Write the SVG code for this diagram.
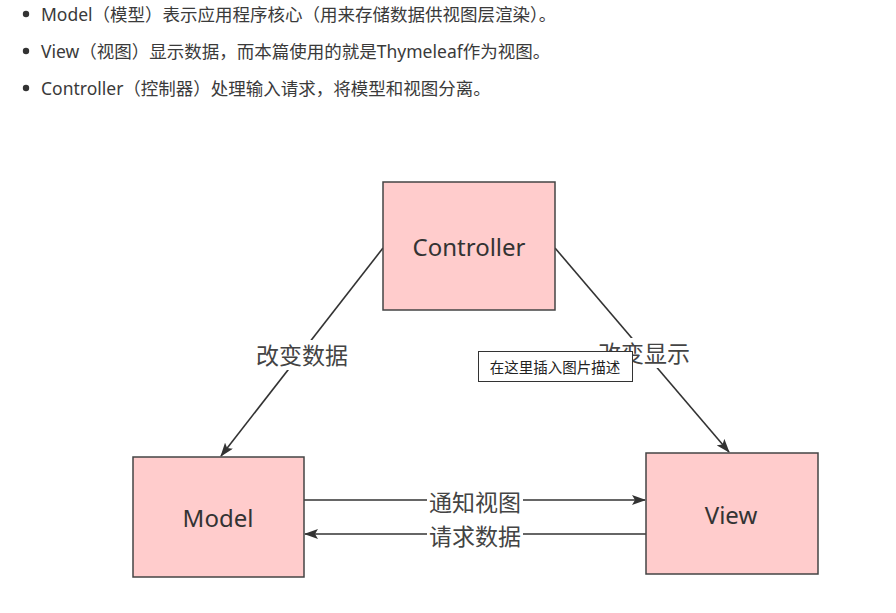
<svg xmlns="http://www.w3.org/2000/svg" width="896" height="613" viewBox="0 0 896 613">
<style>
.bt{font-family:"Noto Sans","Noto Sans CJK SC",sans-serif;font-size:17.5px;fill:#3a3a3a}
.box{fill:#ffcccc;stroke:#444;stroke-width:1.5}
.nt{font-family:"Noto Sans","Noto Sans CJK SC",sans-serif;font-size:24px;fill:#333;text-anchor:middle;dominant-baseline:central}
.lb{font-family:"Noto Sans CJK SC",sans-serif;font-size:23px;fill:#444;text-anchor:middle;dominant-baseline:central}
.ln{stroke:#333;stroke-width:1.6;fill:none;marker-end:url(#ah)}
.bg{fill:#fff}
</style>
<defs>
<marker id="ah" viewBox="0 0 14 10" refX="13" refY="5" markerWidth="14" markerHeight="10" markerUnits="userSpaceOnUse" orient="auto">
<path d="M0,0 L14,5 L0,10 L3,5 Z" fill="#333"/>
</marker>
</defs>
<rect width="896" height="613" fill="#fff"/>
<g id="bullets">
<circle cx="26" cy="14" r="3.2" fill="#333"/>
<text class="bt" x="41" y="21">Model（模型）表示应用程序核心（用来存储数据供视图层渲染）。</text>
<circle cx="26" cy="51" r="3.2" fill="#333"/>
<text class="bt" x="41" y="58">View（视图）显示数据，而本篇使用的就是Thymeleaf作为视图。</text>
<circle cx="26" cy="88" r="3.2" fill="#333"/>
<text class="bt" x="41" y="95">Controller（控制器）处理输入请求，将模型和视图分离。</text>
</g>
<g id="connectors">
<line class="ln" x1="383" y1="248" x2="221" y2="456"/>
<line class="ln" x1="555" y1="248" x2="729" y2="452"/>
<line class="ln" x1="304" y1="500" x2="645" y2="500"/>
<line class="ln" x1="646" y1="534" x2="305" y2="534"/>
<rect class="bg" x="254" y="340" width="96" height="30"/>
<text class="lb" x="302" y="354">改变数据</text>
<rect class="bg" x="596" y="338" width="96" height="30"/>
<text class="lb" x="644" y="352">改变显示</text>
<rect class="bg" x="427" y="488" width="96" height="26"/>
<text class="lb" x="475" y="501">通知视图</text>
<rect class="bg" x="427" y="522" width="96" height="26"/>
<text class="lb" x="475" y="535">请求数据</text>
</g>
<g id="controller">
<rect class="box" x="383" y="182" width="172" height="128"/>
<text class="nt" x="469" y="246">Controller</text>
</g>
<g id="model">
<rect class="box" x="133" y="457" width="171" height="120"/>
<text class="nt" x="218" y="517">Model</text>
</g>
<g id="view">
<rect class="box" x="646" y="453" width="172" height="121"/>
<text class="nt" x="731" y="514">View</text>
</g>
<g id="tooltip">
<rect x="478.5" y="351.5" width="154" height="30" fill="#fff" stroke="#333" stroke-width="1"/>
<text x="555" y="366.5" font-family="Noto Sans CJK SC,sans-serif" font-size="14.5" fill="#222" text-anchor="middle" dominant-baseline="central">在这里插入图片描述</text>
</g>
</svg>
